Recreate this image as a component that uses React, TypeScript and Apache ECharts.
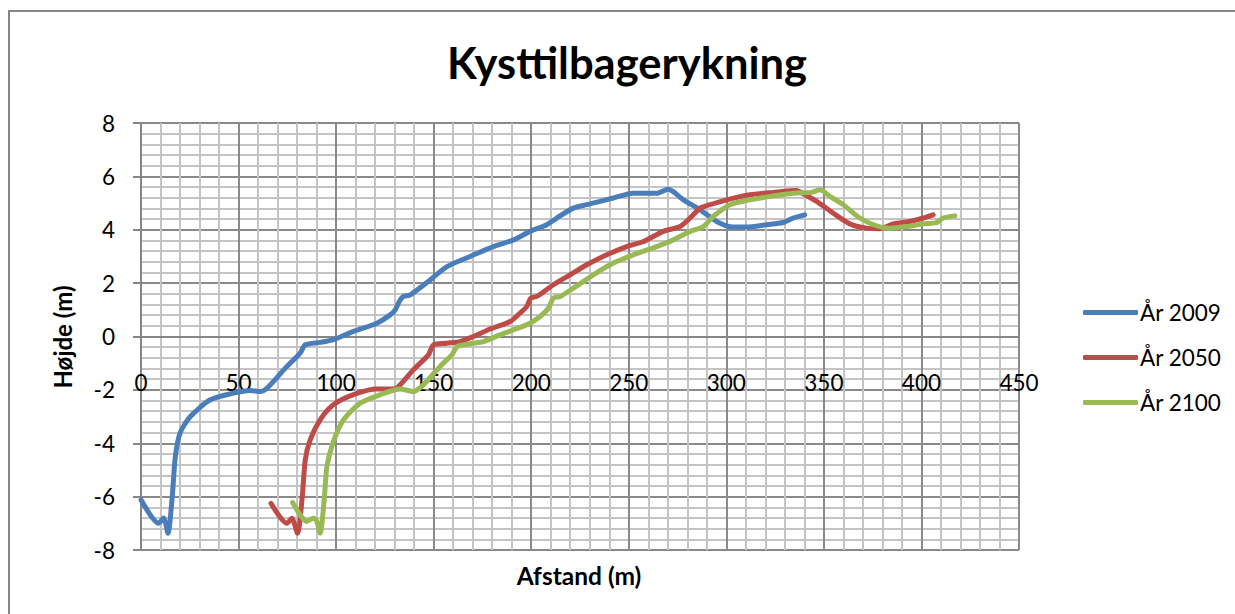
import React, { useEffect, useRef } from "react";
import * as echarts from "echarts";

const title = "Kysttilbagerykning";
const xAxisTitle = "Afstand (m)";
const yAxisTitle = "Højde (m)";
const seriesNames = ["År 2009", "År 2050", "År 2100"];

const x2009 = [0, 9, 11.6, 13.8, 15.9, 17.6, 20.1, 25.3, 35.5, 47.4, 56, 61, 64.5, 74.8, 81.6, 84.2, 91.8, 98.6, 108.9, 120.9, 127.7, 130.3, 132.8, 134.5, 138, 148.2, 156.8, 168.7, 180.6, 190.9, 199.4, 208, 213.1, 221.6, 228.5, 242.1, 252.3, 264.3, 270.2, 272.8, 278, 286.5, 295, 303.5, 310.4, 320.6, 329.1, 334.3, 340.2];
const y2009 = [-6.12, -7.0, -6.8, -7.37, -6.1, -4.5, -3.6, -3.0, -2.37, -2.12, -2.02, -2.06, -1.94, -1.12, -0.62, -0.31, -0.22, -0.12, 0.19, 0.5, 0.81, 1.0, 1.37, 1.5, 1.56, 2.12, 2.62, 3.0, 3.37, 3.62, 3.94, 4.19, 4.44, 4.81, 4.94, 5.19, 5.37, 5.37, 5.52, 5.43, 5.12, 4.75, 4.31, 4.1, 4.1, 4.19, 4.27, 4.44, 4.56];

const x2050 = [66.6, 74.8, 77.3, 80.2, 82.5, 84.2, 86.7, 91.8, 98.6, 108.9, 120.9, 127.7, 131.1, 139.6, 147.3, 149.9, 156.8, 163.6, 170.4, 178.9, 189.2, 194.3, 197.7, 199.8, 202.9, 211.4, 219.9, 228.5, 238.7, 248.9, 257.5, 267.7, 276.3, 281.4, 286.5, 289.9, 300.2, 312.1, 324.1, 336, 339.4, 346.3, 354.8, 363.3, 371.8, 378.7, 385.5, 394, 400.9, 406];
const y2050 = [-6.25, -7.0, -6.81, -7.37, -6.12, -4.62, -3.87, -3.12, -2.56, -2.18, -1.97, -1.97, -1.93, -1.25, -0.69, -0.31, -0.25, -0.19, 0, 0.28, 0.56, 0.88, 1.12, 1.44, 1.5, 1.94, 2.31, 2.69, 3.06, 3.37, 3.56, 3.94, 4.12, 4.44, 4.81, 4.9, 5.12, 5.31, 5.4, 5.47, 5.35, 5.06, 4.62, 4.22, 4.06, 4.04, 4.22, 4.31, 4.44, 4.56];

const x2100 = [77.7, 85, 88.4, 90, 91.8, 93.9, 95.3, 98.6, 103.8, 112.3, 122.6, 132.8, 139.6, 144.7, 153.3, 159.3, 162.2, 168.7, 175.5, 184, 190.9, 199.4, 204.5, 208.8, 211.4, 214.8, 221.6, 231.8, 242.1, 252.3, 264.3, 272.8, 281.4, 288.2, 293.3, 301.8, 312.1, 324.1, 334.3, 343.5, 348, 353.1, 359.9, 368.4, 376.9, 383.8, 392.3, 400.9, 407.7, 411.1, 417.1];
const y2100 = [-6.22, -6.93, -6.81, -6.9, -7.37, -6.12, -4.87, -3.94, -3.12, -2.5, -2.18, -1.97, -2.06, -1.81, -1.12, -0.69, -0.37, -0.27, -0.19, 0.06, 0.25, 0.5, 0.75, 1.06, 1.44, 1.5, 1.81, 2.31, 2.75, 3.06, 3.37, 3.62, 3.94, 4.12, 4.5, 4.94, 5.12, 5.27, 5.37, 5.4, 5.5, 5.25, 4.94, 4.44, 4.15, 4.06, 4.12, 4.22, 4.27, 4.44, 4.52];

const colors = ["#4A7EBB", "#BE4B48", "#98B954"];

const pair = (xs: number[], ys: number[]) => xs.map((x, i) => [x, ys[i]]);

export default function App() {
  const ref = useRef<HTMLDivElement>(null);
  useEffect(() => {
    document.body.style.margin = "0";
    const chart = echarts.init(ref.current!, null, { renderer: "svg" });
    const font = "Lato, 'Open Sans', sans-serif";
    const data = [pair(x2009, y2009), pair(x2050, y2050), pair(x2100, y2100)];
    const gridTop = 123;
    const gridHeight = 427;
    const yMin = -8;
    const yMax = 8;
    // distance from the grid bottom up to the y = 0 line, so the x axis sits on zero
    const zeroOffset = -gridHeight * (0 - yMin) / (yMax - yMin);
    chart.setOption({
      animation: false,
      color: colors,
      textStyle: { fontFamily: font },
      grid: { left: 141, top: gridTop, width: 878, height: gridHeight, containLabel: false },
      graphic: [
        {
          type: "rect",
          shape: { x: 9, y: 11, width: 1240, height: 700 },
          style: { fill: "none", stroke: "#868686", lineWidth: 2 },
          silent: true,
        },
        {
          type: "text",
          x: 627,
          y: 62,
          style: {
            text: title,
            fontFamily: font,
            fontWeight: "bold",
            fontSize: 43.5,
            fill: "#000",
            textAlign: "center",
            textVerticalAlign: "middle",
          },
        },
        {
          type: "text",
          x: 579,
          y: 575,
          style: {
            text: xAxisTitle,
            fontFamily: font,
            fontWeight: "bold",
            fontSize: 24.5,
            fill: "#000",
            textAlign: "center",
            textVerticalAlign: "middle",
          },
        },
        {
          type: "text",
          x: 62,
          y: 337,
          rotation: Math.PI / 2,
          style: {
            text: yAxisTitle,
            fontFamily: font,
            fontWeight: "bold",
            fontSize: 24,
            fill: "#000",
            textAlign: "center",
            textVerticalAlign: "middle",
          },
        },
      ],
      legend: {
        orient: "vertical",
        left: 1078,
        top: 296,
        itemWidth: 55,
        itemHeight: 5,
        itemGap: 22,
        icon: "roundRect",
        textStyle: { fontFamily: font, fontSize: 22.5, color: "#000", padding: [0, 0, 0, -3] },
        data: seriesNames,
      },
      xAxis: {
        type: "value",
        min: 0,
        max: 450,
        interval: 50,
        offset: zeroOffset,
        axisLine: { onZero: false, lineStyle: { color: "#868686", width: 2 } },
        axisTick: { show: false },
        axisLabel: { fontFamily: font, fontSize: 22.5, color: "#000", margin: 34 },
        splitLine: { show: true, lineStyle: { color: "#8A8A8A", width: 2 } },
        minorTick: { show: false, splitNumber: 5 },
        minorSplitLine: { show: true, lineStyle: { color: "#C4C4C4", width: 2 } },
      },
      yAxis: {
        type: "value",
        min: yMin,
        max: yMax,
        interval: 2,
        axisLine: { show: true, onZero: false, lineStyle: { color: "#868686", width: 2 } },
        axisTick: { show: true, length: 8, lineStyle: { color: "#868686", width: 2 } },
        axisLabel: { fontFamily: font, fontSize: 22.5, color: "#000", margin: 26 },
        splitLine: { show: true, lineStyle: { color: "#8A8A8A", width: 2 } },
        minorTick: { show: false, splitNumber: 5 },
        minorSplitLine: { show: true, lineStyle: { color: "#C4C4C4", width: 2 } },
      },
      series: seriesNames.map((name, i) => ({
        name,
        type: "line",
        data: data[i],
        smooth: 0.25,
        showSymbol: false,
        symbol: "none",
        lineStyle: { width: 5, color: colors[i], cap: "round", join: "round" },
        itemStyle: { color: colors[i] },
      })),
    });
    return () => chart.dispose();
  }, []);
  return <div ref={ref} style={{ width: 1235, height: 614 }} />;
}
